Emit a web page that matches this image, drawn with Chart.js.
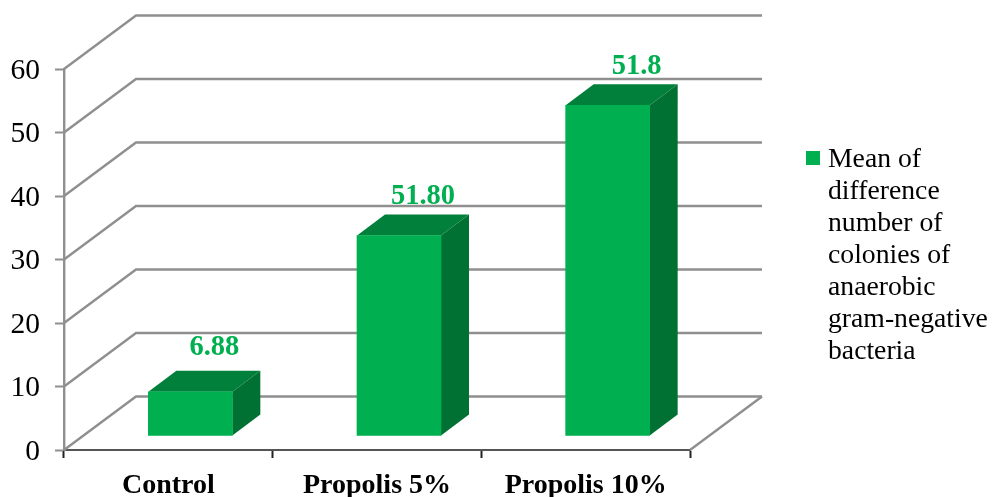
<!DOCTYPE html>
<html>
<head>
<meta charset="utf-8">
<title>Mean of difference number of colonies</title>
<script src="https://cdn.jsdelivr.net/npm/chart.js@4/dist/chart.umd.min.js"></script>
<style>
html, body { margin: 0; padding: 0; background: #fff; }
canvas { display: block; }
</style>
</head>
<body>
<canvas id="bar-chart" width="992" height="497"></canvas>
<script>
var categories = ['Control', 'Propolis 5%', 'Propolis 10%'];
var seriesName = 'Mean of difference number of colonies of anaerobic gram-negative bacteria';
var seriesValues = [6.88, 31.5, 52];
var valueLabels = ['6.88', '51.80', '51.8'];
var yTicks = [0, 10, 20, 30, 40, 50, 60];
var legendLines = ['Mean of', 'difference', 'number of', 'colonies of', 'anaerobic', 'gram-negative', 'bacteria'];

var FONT = '"Liberation Serif", "Times New Roman", serif';
var GREY = '#8f8f8f';
// fake 3d: wall depth, bar depth, and how far the bars stand in from the front edge
var wallDx = 72, wallDy = 53.5;
var barDx = 28, barDy = 21;
var barShiftX = 22, barShiftY = 14.5;
// labels were hand placed in the original chart
var labelShiftX = [24, 24, 29];
var labelShiftY = [-44, -39, -39];

var depthPlugin = {
	id: 'depth',
	beforeDatasetsDraw: function(chart) {
		var c = chart.ctx, y = chart.scales.y, a = chart.chartArea;
		c.save();
		c.strokeStyle = GREY;
		c.lineWidth = 2.4;
		yTicks.forEach(function(v) {
			var py = y.getPixelForValue(v);
			c.beginPath();
			c.moveTo(a.left, py);
			c.lineTo(a.left + wallDx, py - wallDy);
			c.lineTo(a.right + wallDx, py - wallDy);
			c.stroke();
		});
		// right edge of the floor
		c.beginPath();
		c.moveTo(a.right, a.bottom);
		c.lineTo(a.right + wallDx, a.bottom - wallDy);
		c.stroke();
		c.restore();
	},
	beforeDatasetDraw: function(chart, args) {
		var c = chart.ctx;
		c.save();
		c.translate(barShiftX, 0);
		args.meta.data.forEach(function(bar) {
			var w = bar.width / 2;
			var l = bar.x - w, r = bar.x + w, t = bar.y, b = bar.base;
			c.fillStyle = '#00803A';
			c.beginPath();
			c.moveTo(l, t);
			c.lineTo(l + barDx, t - barDy);
			c.lineTo(r + barDx, t - barDy);
			c.lineTo(r, t);
			c.closePath();
			c.fill();
			c.fillStyle = '#007033';
			c.beginPath();
			c.moveTo(r, t);
			c.lineTo(r + barDx, t - barDy);
			c.lineTo(r + barDx, b - barDy);
			c.lineTo(r, b);
			c.closePath();
			c.fill();
		});
	},
	afterDatasetDraw: function(chart) {
		chart.ctx.restore();
	},
	afterDraw: function(chart) {
		var c = chart.ctx;
		var bars = chart.getDatasetMeta(0).data;
		c.save();
		c.textBaseline = 'middle';
		c.textAlign = 'center';
		c.fillStyle = '#00B050';
		c.font = 'bold 28.5px ' + FONT;
		bars.forEach(function(bar, i) {
			c.fillText(valueLabels[i], bar.x + barShiftX + labelShiftX[i], bar.y + labelShiftY[i]);
		});
		// legend
		c.fillRect(806, 151, 14, 14);
		c.textAlign = 'left';
		c.fillStyle = '#000';
		c.font = '27.7px ' + FONT;
		legendLines.forEach(function(line, i) {
			c.fillText(line, 828, 159.5 + i * 32);
		});
		c.restore();
	}
};

new Chart(document.getElementById('bar-chart'), {
	type: 'bar',
	data: {
		labels: categories,
		datasets: [{
			label: seriesName,
			data: seriesValues,
			yAxisID: 'yBar',
			backgroundColor: '#00B050',
			barThickness: 84,
			clip: false
		}]
	},
	options: {
		responsive: false,
		animation: false,
		layout: {
			autoPadding: false,
			padding: { left: 0, top: 69, right: 302, bottom: 0 }
		},
		plugins: {
			legend: { display: false },
			title: { display: false },
			tooltip: { enabled: false }
		},
		scales: {
			x: {
				afterFit: function(s) { s.height = 47; },
				grid: { drawOnChartArea: false, color: '#222', tickLength: 8, tickWidth: 2, offset: true },
				border: { color: '#555', width: 2 },
				ticks: { color: '#000', font: { family: FONT, size: 28, weight: 'bold' }, padding: 11, maxRotation: 0, autoSkip: false }
			},
			y: {
				min: 0,
				max: 60,
				afterFit: function(s) { s.width = 64; },
				afterBuildTicks: function(s) { s.ticks = yTicks.map(function(v) { return { value: v }; }); },
				grid: { drawOnChartArea: false, color: GREY, tickLength: 9, tickWidth: 2 },
				border: { color: GREY, width: 2.4 },
				ticks: { color: '#000', font: { family: FONT, size: 29.5 }, padding: 15, labelOffset: 2 }
			},
			// same pixels per unit as y, moved so zero sits on the raised bar floor
			yBar: {
				display: false,
				min: -barShiftY / (381 / 60),
				max: 60 - barShiftY / (381 / 60)
			}
		}
	},
	plugins: [depthPlugin]
});
</script>
</body>
</html>
